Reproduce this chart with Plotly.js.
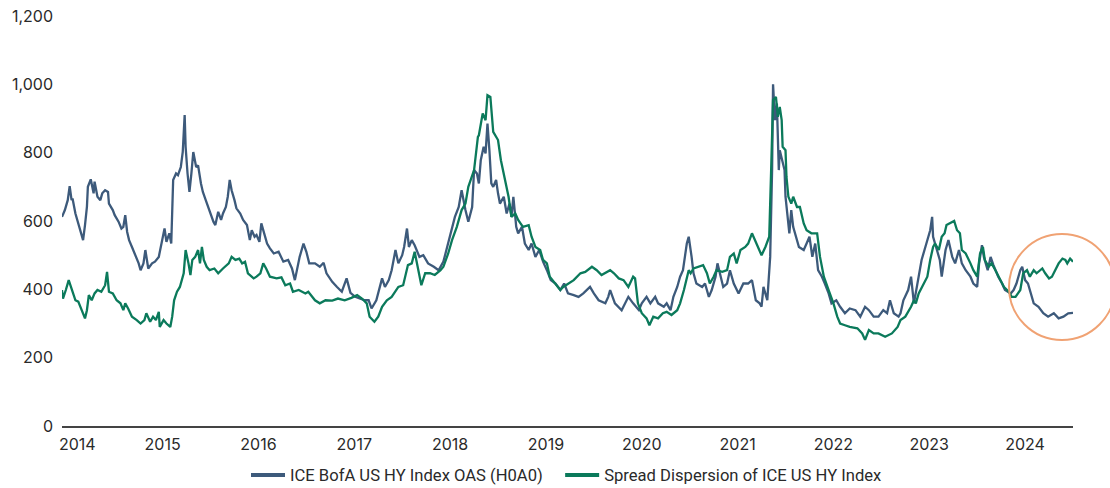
<!DOCTYPE html>
<html>
<head>
<meta charset="utf-8">
<script src="https://cdn.plot.ly/plotly-3.0.1.min.js"></script>
<style>html,body{margin:0;padding:0;background:#fff;}#chart{width:1110px;height:488px;}</style>
</head>
<body>
<div id="chart"></div>
<script>
// ICE BofA US HY Index OAS (H0A0) — dates as decimal years, values in bp
const oasYears = [2013.95,2013.98,2014.01,2014.03,2014.05,2014.06,2014.09,2014.12,2014.15,2014.17,2014.19,2014.21,2014.22,2014.25,2014.28,2014.29,2014.32,2014.35,2014.37,2014.40,2014.43,2014.44,2014.48,2014.50,2014.54,2014.57,2014.59,2014.61,2014.63,2014.65,2014.68,2014.71,2014.75,2014.77,2014.80,2014.82,2014.85,2014.89,2014.92,2014.96,2014.99,2015.02,2015.04,2015.07,2015.09,2015.11,2015.14,2015.16,2015.19,2015.21,2015.23,2015.24,2015.26,2015.28,2015.30,2015.32,2015.35,2015.37,2015.40,2015.42,2015.45,2015.48,2015.51,2015.53,2015.55,2015.58,2015.61,2015.63,2015.66,2015.68,2015.70,2015.72,2015.75,2015.77,2015.81,2015.84,2015.88,2015.91,2015.93,2015.96,2015.98,2016.01,2016.03,2016.06,2016.09,2016.12,2016.16,2016.21,2016.26,2016.31,2016.35,2016.38,2016.43,2016.47,2016.50,2016.53,2016.59,2016.64,2016.68,2016.71,2016.77,2016.82,2016.87,2016.92,2016.96,2017.01,2017.06,2017.11,2017.15,2017.18,2017.23,2017.29,2017.32,2017.36,2017.39,2017.43,2017.46,2017.50,2017.52,2017.55,2017.57,2017.60,2017.63,2017.68,2017.72,2017.77,2017.83,2017.88,2017.93,2017.97,2018.02,2018.05,2018.09,2018.12,2018.16,2018.19,2018.23,2018.25,2018.28,2018.30,2018.32,2018.35,2018.37,2018.39,2018.41,2018.43,2018.45,2018.48,2018.50,2018.52,2018.56,2018.59,2018.62,2018.64,2018.66,2018.69,2018.71,2018.75,2018.78,2018.82,2018.85,2018.89,2018.93,2018.97,2019.01,2019.05,2019.10,2019.15,2019.19,2019.23,2019.29,2019.34,2019.39,2019.46,2019.50,2019.55,2019.62,2019.65,2019.67,2019.72,2019.79,2019.83,2019.86,2019.91,2019.97,2020.00,2020.05,2020.09,2020.14,2020.17,2020.23,2020.26,2020.30,2020.33,2020.37,2020.40,2020.43,2020.47,2020.49,2020.52,2020.54,2020.57,2020.63,2020.66,2020.70,2020.73,2020.77,2020.79,2020.82,2020.85,2020.89,2020.92,2020.96,2021.01,2021.06,2021.11,2021.15,2021.19,2021.23,2021.25,2021.27,2021.31,2021.34,2021.36,2021.37,2021.39,2021.41,2021.43,2021.44,2021.47,2021.49,2021.50,2021.52,2021.54,2021.56,2021.58,2021.64,2021.69,2021.72,2021.75,2021.78,2021.81,2021.84,2021.88,2021.91,2021.95,2021.98,2022.03,2022.07,2022.12,2022.17,2022.23,2022.28,2022.33,2022.37,2022.42,2022.47,2022.52,2022.56,2022.59,2022.63,2022.68,2022.70,2022.73,2022.78,2022.81,2022.84,2022.87,2022.90,2022.92,2022.97,2023.01,2023.03,2023.04,2023.08,2023.11,2023.13,2023.17,2023.20,2023.24,2023.27,2023.31,2023.34,2023.38,2023.43,2023.46,2023.50,2023.52,2023.55,2023.57,2023.61,2023.64,2023.67,2023.72,2023.76,2023.79,2023.85,2023.88,2023.91,2023.95,2023.97,2024.00,2024.03,2024.05,2024.09,2024.14,2024.19,2024.24,2024.30,2024.35,2024.40,2024.45,2024.50];
const oasValues = [612,632,661,702,661,666,622,593,564,544,588,641,700,722,681,715,671,661,681,690,685,651,632,617,598,578,583,617,568,544,524,505,476,456,476,515,461,476,481,495,534,578,539,564,534,720,739,734,758,802,910,817,739,685,739,802,758,763,710,685,661,637,612,598,588,627,603,622,641,671,720,690,661,637,622,603,588,544,573,554,559,539,593,564,534,520,505,510,481,486,461,427,495,534,510,476,476,466,478,447,422,407,393,432,390,378,373,368,368,344,368,432,407,427,456,515,476,500,524,578,524,544,529,495,500,476,466,456,481,524,573,612,641,690,632,598,641,749,739,710,778,817,798,885,807,710,700,720,681,651,671,622,651,612,671,583,564,583,534,515,534,495,515,481,456,427,417,398,417,388,383,378,388,407,388,368,359,378,398,359,339,359,378,359,339,359,378,359,378,359,349,359,339,378,407,437,456,534,554,495,447,417,407,417,378,398,437,476,437,407,417,456,417,388,417,417,427,368,359,349,407,368,495,749,1000,895,944,749,807,768,749,671,622,564,632,583,524,515,534,554,495,534,456,437,417,388,359,368,349,330,344,339,320,349,339,320,320,339,330,368,330,320,330,368,398,437,359,407,466,486,534,573,612,554,515,486,437,515,544,495,476,515,476,456,437,417,407,476,529,495,456,495,471,437,417,398,388,398,417,456,466,427,417,398,359,349,330,320,330,315,320,330,331];

// Spread Dispersion of ICE US HY Index
const dispYears = [2013.95,2013.96,2013.99,2014.02,2014.06,2014.09,2014.12,2014.16,2014.19,2014.21,2014.23,2014.26,2014.29,2014.32,2014.36,2014.40,2014.42,2014.44,2014.48,2014.52,2014.56,2014.59,2014.61,2014.64,2014.68,2014.73,2014.77,2014.81,2014.83,2014.87,2014.90,2014.93,2014.96,2014.97,2015.01,2015.04,2015.08,2015.10,2015.12,2015.15,2015.18,2015.22,2015.24,2015.27,2015.29,2015.31,2015.34,2015.37,2015.39,2015.41,2015.43,2015.46,2015.49,2015.54,2015.58,2015.63,2015.69,2015.72,2015.76,2015.80,2015.83,2015.86,2015.89,2015.95,2015.98,2016.02,2016.05,2016.08,2016.12,2016.19,2016.24,2016.28,2016.33,2016.36,2016.42,2016.49,2016.52,2016.59,2016.64,2016.70,2016.77,2016.83,2016.90,2016.97,2017.03,2017.08,2017.13,2017.16,2017.21,2017.25,2017.29,2017.34,2017.39,2017.46,2017.51,2017.56,2017.60,2017.63,2017.67,2017.70,2017.74,2017.79,2017.84,2017.90,2017.93,2017.98,2018.02,2018.07,2018.12,2018.16,2018.19,2018.25,2018.29,2018.30,2018.34,2018.37,2018.39,2018.42,2018.45,2018.48,2018.50,2018.53,2018.57,2018.59,2018.61,2018.64,2018.68,2018.71,2018.76,2018.82,2018.85,2018.89,2018.94,2018.97,2019.01,2019.04,2019.10,2019.15,2019.18,2019.23,2019.29,2019.36,2019.41,2019.48,2019.53,2019.58,2019.67,2019.71,2019.76,2019.81,2019.86,2019.91,2019.93,2019.96,2020.00,2020.05,2020.08,2020.12,2020.17,2020.22,2020.26,2020.31,2020.37,2020.40,2020.44,2020.49,2020.51,2020.54,2020.59,2020.64,2020.68,2020.71,2020.75,2020.78,2020.84,2020.89,2020.92,2020.96,2020.99,2021.03,2021.08,2021.11,2021.15,2021.18,2021.22,2021.25,2021.29,2021.33,2021.35,2021.37,2021.40,2021.42,2021.44,2021.46,2021.47,2021.50,2021.51,2021.53,2021.56,2021.58,2021.62,2021.65,2021.69,2021.72,2021.77,2021.83,2021.86,2021.90,2021.95,2022.00,2022.04,2022.07,2022.12,2022.17,2022.25,2022.30,2022.33,2022.37,2022.42,2022.47,2022.54,2022.61,2022.67,2022.70,2022.75,2022.81,2022.84,2022.86,2022.89,2022.94,2022.98,2023.01,2023.04,2023.06,2023.10,2023.13,2023.16,2023.18,2023.24,2023.26,2023.29,2023.32,2023.34,2023.38,2023.43,2023.46,2023.50,2023.53,2023.56,2023.58,2023.62,2023.65,2023.69,2023.74,2023.78,2023.83,2023.86,2023.90,2023.95,2023.98,2024.02,2024.05,2024.09,2024.12,2024.18,2024.21,2024.25,2024.28,2024.31,2024.35,2024.39,2024.42,2024.44,2024.47,2024.50];
const dispValues = [398,373,398,427,393,368,364,334,315,339,383,368,388,398,393,412,451,393,388,368,359,339,359,344,320,310,300,310,330,305,320,310,334,290,310,300,290,320,368,393,407,447,515,476,442,486,495,515,476,524,486,466,456,461,447,461,476,495,486,490,476,481,447,432,437,447,476,461,437,432,435,412,417,393,398,388,393,368,359,368,367,373,368,375,383,373,359,320,305,320,349,368,378,407,412,471,476,510,447,412,447,447,442,456,466,505,544,583,632,651,700,749,846,851,915,895,968,963,861,846,837,778,720,690,671,612,622,603,583,588,554,524,515,486,476,437,417,398,407,417,427,447,451,466,456,442,456,447,432,427,407,437,432,359,330,315,295,320,315,330,334,325,339,359,398,456,447,461,466,471,447,417,437,456,451,456,495,505,476,515,524,534,564,544,515,500,524,554,749,954,963,905,934,895,817,807,729,671,651,671,641,641,593,573,564,564,495,437,398,359,320,300,295,290,286,271,252,281,271,271,261,271,290,310,320,349,368,359,388,417,437,486,524,534,515,554,564,588,598,600,573,564,515,505,476,456,437,505,524,486,466,476,456,427,407,393,378,378,398,447,456,437,456,447,461,447,432,437,456,476,490,486,476,490,481];

// Axis ticks
const yearTickVals = [2014.11,2015,2016,2017,2018,2019,2020,2021,2022,2023,2024];
const yearTickText = ['2014','2015','2016','2017','2018','2019','2020','2021','2022','2023','2024'];
const valueTicks = [0,200,400,600,800,1000,1200];

const seriesNames = ['ICE BofA US HY Index OAS (H0A0)','Spread Dispersion of ICE US HY Index'];
const BLUE = '#3d5a7b', GREEN = '#0b7a5b';
const PAD = '\u00a0\u00a0\u00a0';

const traces = [
  {x: oasYears, y: oasValues, type: 'scatter', mode: 'lines', name: seriesNames[0],
   line: {color: BLUE, width: 2.3}, showlegend: false, hoverinfo: 'skip'},
  {x: dispYears, y: dispValues, type: 'scatter', mode: 'lines', name: seriesNames[1],
   line: {color: GREEN, width: 2.3}, showlegend: false, hoverinfo: 'skip'},
  // legend swatches (thicker lines, no data drawn)
  {x: [null], y: [null], type: 'scatter', mode: 'lines', name: seriesNames[0] + PAD, line: {color: BLUE, width: 4}},
  {x: [null], y: [null], type: 'scatter', mode: 'lines', name: seriesNames[1], line: {color: GREEN, width: 4}}
];

const layout = {
  width: 1110, height: 488,
  margin: {l: 62, r: 37, t: 16, b: 62, autoexpand: false},
  paper_bgcolor: '#fff', plot_bgcolor: '#fff',
  font: {family: 'Inter, "Open Sans", sans-serif', size: 16, color: '#2a2a2a'},
  showlegend: true,
  legend: {orientation: 'h', x: 0.182, xanchor: 'left', y: -0.12, yanchor: 'middle',
           font: {family: 'Roboto, "Noto Sans", sans-serif', size: 16.6, color: '#2a2a2a'},
           itemwidth: 34, tracegroupgap: 0},
  xaxis: {range: [2013.95, 2024.5], tickmode: 'array', tickvals: yearTickVals, ticktext: yearTickText,
          showgrid: false, zeroline: false, showline: true, linecolor: '#444', linewidth: 1.5,
          ticks: '', ticklabelstandoff: 3, tickfont: {size: 16, color: '#2a2a2a'}, fixedrange: true},
  yaxis: {range: [0, 1200], tickmode: 'array', tickvals: valueTicks, tickformat: ',d',
          showgrid: false, zeroline: false, showline: false, ticks: '', ticklabelstandoff: 8,
          tickfont: {size: 16, color: '#2a2a2a'}, fixedrange: true},
  shapes: [
    {type: 'circle', xref: 'paper', yref: 'paper', x0: 0.9367, x1: 1.0415, y0: 0.2096, y1: 0.468,
     line: {color: '#f0a273', width: 2}}
  ]
};

Plotly.newPlot('chart', traces, layout, {displayModeBar: false, staticPlot: true});
</script>
</body>
</html>
